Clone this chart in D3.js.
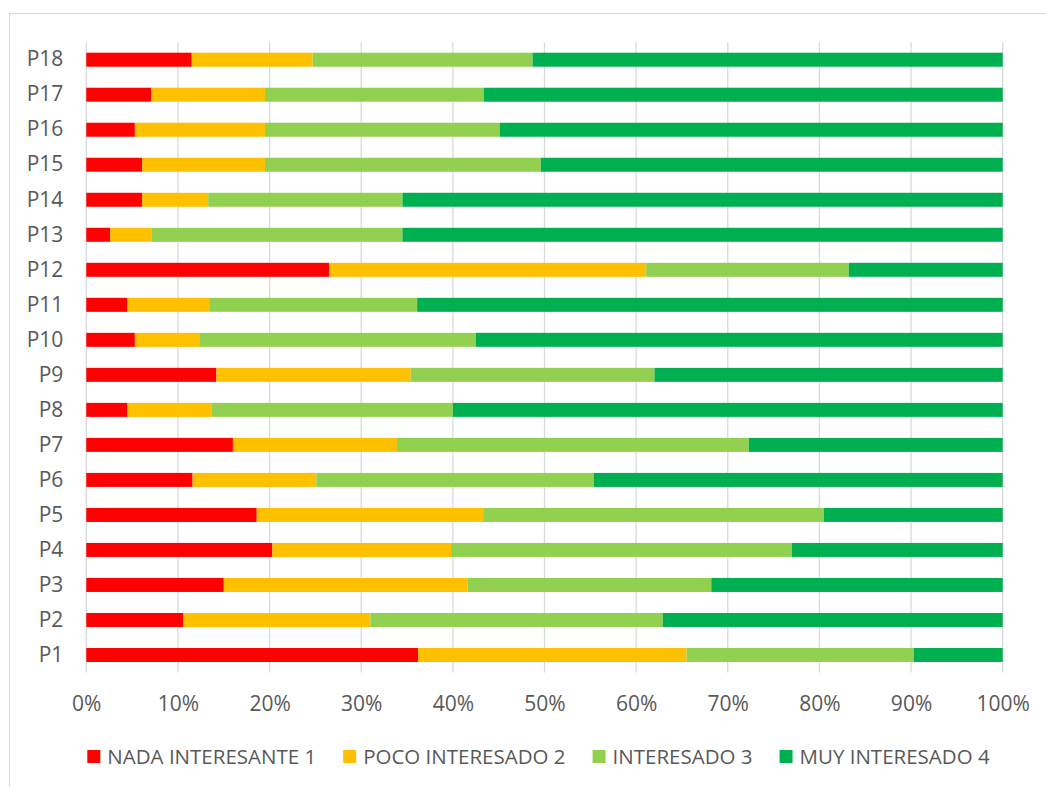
<!DOCTYPE html>
<html>
<head>
<meta charset="utf-8">
<script src="https://cdn.jsdelivr.net/npm/d3@7"></script>
<style>
  body { margin: 0; background: #fff; }
  text { font-family: "Open Sans", "Liberation Sans", sans-serif; fill: #595959; }
</style>
</head>
<body>
<div id="chart"></div>
<script>
// questions, bottom (P1) to top (P18)
var preguntas = ["P1","P2","P3","P4","P5","P6","P7","P8","P9","P10","P11","P12","P13","P14","P15","P16","P17","P18"];
var series = ["NADA INTERESANTE 1", "POCO INTERESADO 2", "INTERESADO 3", "MUY INTERESADO 4"];
var colores = ["#ff0000", "#ffc000", "#92d050", "#00b050"];

// percentages per question, one array per series
var nada  = [36.2, 10.6, 15.0, 20.3, 18.6, 11.6, 16.0,  4.5, 14.2,  5.3,  4.5, 26.5,  2.6,  6.1,  6.1,  5.3,  7.1, 11.5];
var poco  = [29.3, 20.4, 26.6, 19.5, 24.7, 13.5, 17.9,  9.2, 21.2,  7.1,  9.0, 34.6,  4.5,  7.2, 13.4, 14.2, 12.4, 13.2];
var inter = [24.8, 31.9, 26.6, 37.2, 37.2, 30.3, 38.4, 26.3, 26.6, 30.1, 22.6, 22.1, 27.4, 21.2, 30.1, 25.6, 23.9, 24.0];
var muy   = [ 9.7, 37.1, 31.8, 23.0, 19.5, 44.6, 27.7, 60.0, 38.0, 57.5, 63.9, 16.8, 65.5, 65.5, 50.4, 54.9, 56.6, 51.3];

var ticks = [0, 0.1, 0.2, 0.3, 0.4, 0.5, 0.6, 0.7, 0.8, 0.9, 1];

var width = 1046, height = 787;
var margin = {top: 42.2, right: 43.3, bottom: 114.5, left: 86.3};
var w = width - margin.left - margin.right;
var h = height - margin.top - margin.bottom;

var svg = d3.select("#chart")
  .append("svg")
  .attr("width", width)
  .attr("height", height);

// chart border
svg.append("rect")
  .attr("x", 9.5).attr("y", 13.5)
  .attr("width", width + 10).attr("height", height + 10)
  .attr("fill", "none")
  .attr("stroke", "#d9d9d9");

var g = svg.append("g")
  .attr("transform", "translate(" + margin.left + "," + margin.top + ")");

// build rows
var data = preguntas.map(function(p, i) {
  return { p: p, s0: nada[i], s1: poco[i], s2: inter[i], s3: muy[i] };
});
var stack = d3.stack()
  .keys(["s0", "s1", "s2", "s3"])
  .offset(d3.stackOffsetExpand);
var stacked = stack(data);

var x = d3.scaleLinear().domain([0, 1]).range([0, w]);
var y = d3.scaleBand()
  .domain(preguntas.slice().reverse())
  .range([0, h])
  .paddingInner(0.6)
  .paddingOuter(0.3);

// gridlines
g.append("g")
  .selectAll("line")
  .data(ticks)
  .enter().append("line")
  .attr("x1", function(d) { return x(d); })
  .attr("x2", function(d) { return x(d); })
  .attr("y1", 0)
  .attr("y2", h)
  .attr("stroke", "#d9d9d9")
  .attr("stroke-width", 1.3);

// bars
g.append("g")
  .selectAll("g")
  .data(stacked)
  .enter().append("g")
  .attr("fill", function(d, i) { return colores[i]; })
  .selectAll("rect")
  .data(function(d) { return d; })
  .enter().append("rect")
  .attr("x", function(d) { return x(d[0]); })
  .attr("width", function(d) { return x(d[1]) - x(d[0]); })
  .attr("y", function(d) { return y(d.data.p); })
  .attr("height", y.bandwidth());

// x axis labels
var xAxis = g.append("g")
  .attr("transform", "translate(0," + h + ")")
  .call(d3.axisBottom(x).tickValues(ticks).tickFormat(d3.format(".0%")).tickSize(0).tickPadding(24));
xAxis.select(".domain").remove();
xAxis.selectAll("text")
  .style("font-size", "21px")
  .style("font-family", "'Open Sans', sans-serif")
  .attr("fill", "#595959");

// y axis labels
var yAxis = g.append("g")
  .call(d3.axisLeft(y).tickSize(0).tickPadding(23));
yAxis.select(".domain").remove();
yAxis.selectAll("text")
  .style("font-size", "21px")
  .style("font-family", "'Open Sans', sans-serif")
  .attr("fill", "#595959");

// legend
var legend = svg.append("g");
var items = legend.selectAll("g")
  .data(series)
  .enter().append("g");
items.append("rect")
  .attr("width", 13).attr("height", 13)
  .attr("y", 750)
  .attr("fill", function(d, i) { return colores[i]; });
items.append("text")
  .attr("x", 20)
  .attr("y", 763.5)
  .style("font-size", "20.5px")
  .text(function(d) { return d; });

var pos = 0;
var offsets = [];
items.each(function() {
  offsets.push(pos);
  var tw = d3.select(this).select("text").node().getComputedTextLength();
  pos += 20 + tw + 27;
});
var total = pos - 27;
var startX = 538.5 - total / 2;
items.attr("transform", function(d, i) { return "translate(" + (startX + offsets[i]) + ",0)"; });
</script>
</body>
</html>
